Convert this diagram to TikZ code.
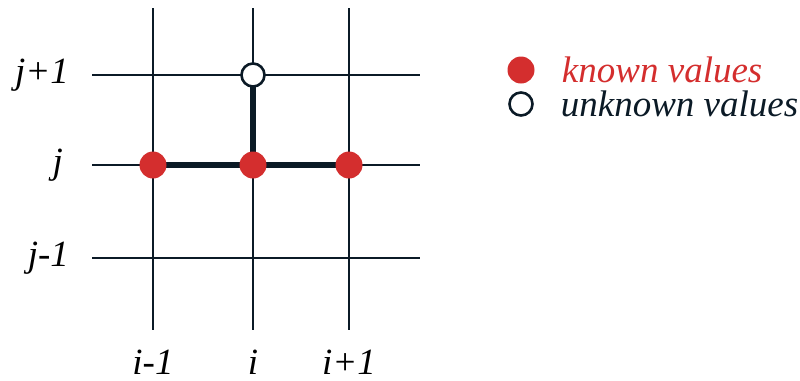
\documentclass[tikz,border=0pt]{standalone}
\usepackage{fontspec}
\setmainfont{Liberation Serif}
\usepackage{xcolor}
\usepackage{tikz}
\usetikzlibrary{positioning,calc}
\definecolor{gridnavy}{HTML}{0B1A26}
\definecolor{knownred}{HTML}{D42E2E}

\begin{document}
\begin{tikzpicture}[
  x=0.5pt, y=-0.5pt,
  font=\fontsize{18.5}{20}\selectfont\itshape,
  gridline/.style={draw=gridnavy, line width=1.3pt},
  stencil/.style={draw=gridnavy, line width=3pt},
  known/.style={circle, fill=knownred, inner sep=0pt, minimum size=13.5pt},
  unknown/.style={circle, draw=gridnavy, line width=1.3pt, fill=white,
    inner sep=0pt, minimum size=11.5pt}
]
\useasboundingbox (0,0) rectangle (800,381);

% grid
\foreach \x in {153,253,349} \draw[gridline] (\x,8) -- (\x,330);
\foreach \y in {75,165,258} \draw[gridline] (92,\y) -- (420,\y);

% axis labels
\node[anchor=east] (jp) at (76,75) {j+1};
\node[anchor=east] (j)  at (70,165) {j};
\node[anchor=east] (jm) at (76,258) {j-1};
\node (im) at (153,362) {i-1};
\node (i)  at (253,362) {i};
\node (ip) at (349,362) {i+1};

% stencil
\coordinate (w) at (153,165);
\coordinate (c) at (253,165);
\coordinate (e) at (349,165);
\coordinate (n) at (253,75);
\draw[stencil] (w) -- (e);
\draw[stencil] (c) -- (n);
\node[known] (pw) at (w) {};
\node[known] (pc) at (c) {};
\node[known] (pe) at (e) {};
\node[unknown] (pn) at (n) {};

% legend
\node[known] (lk) at (521,70) {};
\node[unknown] (lu) at (521,104) {};
\node[anchor=west, text=knownred, right=10pt of lk] (tk) {known values};
\node[anchor=west, text=gridnavy, right=10pt of lu] (tu) {unknown values};
\end{tikzpicture}
\end{document}
